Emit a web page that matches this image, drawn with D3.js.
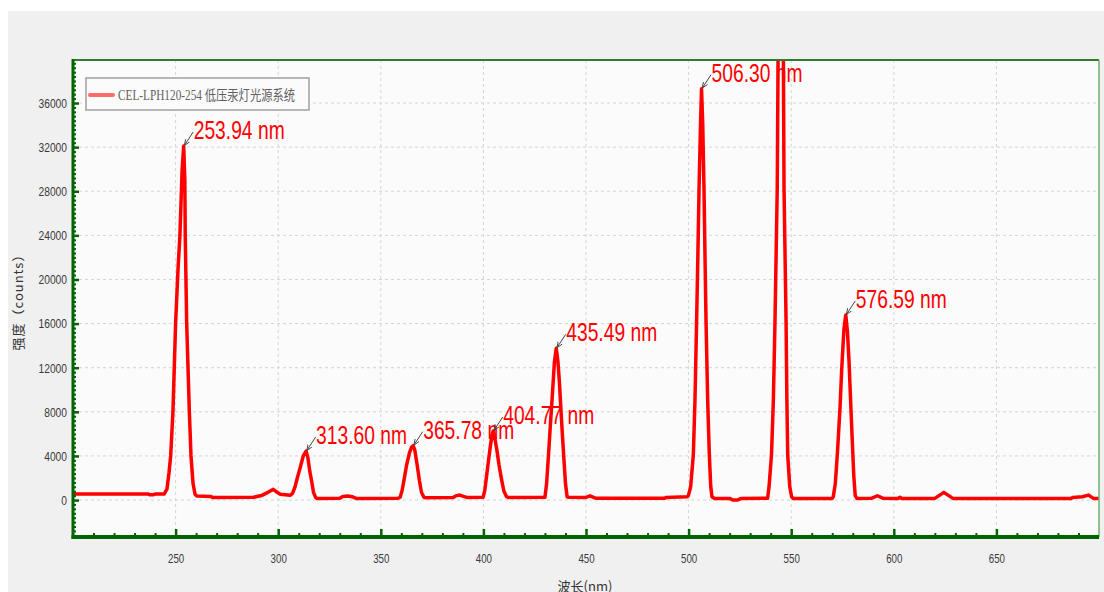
<!DOCTYPE html>
<html>
<head>
<meta charset="utf-8">
<script src="https://cdn.jsdelivr.net/npm/d3@7/dist/d3.min.js"></script>
<style>
  body { margin: 0; background: #ffffff; }
  svg { display: block; }
</style>
</head>
<body>
<div id="chart"></div>
<script>
//------------------------DATA------------------------//
// spectrum: [wavelength nm, counts]
var spectrum = [
  [200, 560], [236.5, 560], [237.5, 470], [239, 480], [240, 540], [244.5, 560],
  [245.8, 1000], [246.8, 2500], [247.6, 4000], [248.7, 8000], [250.0, 16000], [251.2, 21000],
  [252.1, 24000], [253.2, 30000], [253.94, 32100], [254.5, 29000], [254.7, 24000], [255.4, 16000],
  [256.7, 8000], [257.5, 4000], [258.5, 1500], [259.5, 500], [260.5, 360],
  [267, 330], [268, 240], [288, 260], [292, 420], [295, 700], [297.6, 970], [299.5, 700],
  [301, 520], [305.8, 430],
  [307.0, 600], [308.2, 1200], [309.3, 2000], [310.8, 3000], [312.2, 4000], [313.6, 4440],
  [314.5, 3800], [315.4, 2600], [316.3, 1700], [317.2, 700], [318.2, 250],
  [319, 140], [330, 160], [331.5, 330], [334, 360], [336, 300], [338, 150], [358.4, 160],
  [359.4, 250], [360.3, 800], [361.3, 1800], [362.6, 3200], [364, 4300], [365.0, 4800],
  [365.78, 4930], [366.6, 4500], [367.7, 3200], [368.8, 1800], [369.8, 700], [371.0, 250],
  [372, 200], [385.3, 240], [386.5, 380], [388.6, 450], [390.2, 330], [391.9, 240], [399.8, 250],
  [400.0, 350], [400.7, 900], [401.3, 1800], [402.3, 3300], [403.4, 4900], [404.2, 5900],
  [404.77, 6260], [405.4, 5800], [406.5, 4600], [407.6, 3200], [408.9, 1800], [410, 800], [411.3, 300],
  [412, 240], [430, 260],
  [430.8, 1500], [431.8, 4300], [432.7, 7000], [433.6, 9500], [434.6, 12500], [435.49, 13760],
  [436.3, 12600], [437.0, 10800], [437.7, 8500], [438.4, 6200], [439.2, 3800], [440.0, 1500], [440.8, 300],
  [441.5, 250], [450, 240], [452, 380], [454, 220], [455, 160], [488.5, 160], [489, 240], [499.3, 300],
  [499.9, 400], [501.0, 1200], [502.3, 4100], [503.1, 9000], [503.9, 16200], [504.5, 22000],
  [505.1, 28300], [505.8, 34000], [506.3, 37300], [506.9, 34000], [507.5, 28300], [508.0, 22000],
  [508.5, 16200], [509.3, 9000], [510.1, 4100], [510.8, 1200], [511.4, 300],
  [512.5, 150], [520, 150], [521.5, 0], [524, 0], [525.5, 150], [538.5, 170],
  [539.2, 1200], [540.4, 4100], [541.3, 9000], [542.1, 16200], [543.2, 28300], [543.6, 40000],
  [544.8, 65000], [546.2, 40000], [546.5, 28300], [547.5, 16200], [547.9, 9000], [548.3, 4100],
  [549.3, 1200], [550.2, 300],
  [551, 150], [570, 150],
  [570.5, 300], [571.5, 1500], [572.5, 4200], [573.8, 8400], [574.6, 11800], [575.7, 15500],
  [576.59, 16780], [577.4, 15300], [578.2, 12500], [579.0, 8800], [579.8, 5200], [580.5, 2200],
  [581.2, 400],
  [582, 150], [589, 160], [592, 390], [594.6, 170], [602, 150], [603, 260], [604, 150],
  [620, 150], [624.4, 700], [628.8, 150], [686.5, 150], [687, 240], [692, 300], [694.8, 450],
  [697.3, 150], [700, 150]
];

var peakLabels = [253.94, 313.60, 365.78, 404.77, 435.49, 506.30, 576.59];
var xTicks = [250, 300, 350, 400, 450, 500, 550, 600, 650];
var yTicks = [0, 4000, 8000, 12000, 16000, 20000, 24000, 28000, 32000, 36000];
var seriesName = "CEL-LPH120-254 低压汞灯光源系统";
var xTitle = "波长(nm)";
var yTitle = "强度（counts）";

//-----------------------SVG--------------------------//
var W = 1104, H = 592;
var plot = {left: 73, right: 1099, top: 60, bottom: 537};

var svg = d3.select("#chart").append("svg")
    .attr("width", W)
    .attr("height", H);

// grey window
svg.append("rect")
    .attr("x", 8).attr("y", 11)
    .attr("width", W - 8).attr("height", H - 11)
    .style("fill", "#f0f0f0");

svg.append("rect")
    .attr("x", plot.left).attr("y", plot.top)
    .attr("width", plot.right - plot.left).attr("height", plot.bottom - plot.top)
    .style("fill", "#fbfbfb");

//----------------------SCALES------------------------//
var xScale = d3.scaleLinear().domain([200, 700]).range([plot.left, plot.right]);
var yScale = d3.scaleLinear().domain([-3350, 39900]).range([plot.bottom, plot.top]);

//-----------------------GRID-------------------------//
svg.append("g").selectAll("line")
    .data(yTicks).enter().append("line")
    .attr("x1", plot.left).attr("x2", plot.right)
    .attr("y1", function(d) { return yScale(d); })
    .attr("y2", function(d) { return yScale(d); })
    .style("stroke", "#d4d4d4")
    .style("stroke-dasharray", "3,3");

svg.append("g").selectAll("line")
    .data(xTicks).enter().append("line")
    .attr("x1", function(d) { return xScale(d); })
    .attr("x2", function(d) { return xScale(d); })
    .attr("y1", plot.top).attr("y2", plot.bottom)
    .style("stroke", "#d4d4d4")
    .style("stroke-dasharray", "3,3");

//--------------------ANNOTATIONS---------------------//
var defs = svg.append("defs");
defs.append("marker")
    .attr("id", "arrow")
    .attr("viewBox", "0 0 10 10")
    .attr("refX", 9).attr("refY", 5)
    .attr("markerWidth", 6).attr("markerHeight", 6)
    .attr("orient", "auto")
    .append("path")
    .attr("d", "M0,1 L10,5 L0,9")
    .style("fill", "none")
    .style("stroke", "#444")
    .style("stroke-width", 1.5);

defs.append("clipPath").attr("id", "plotclip")
    .append("rect")
    .attr("x", plot.left).attr("y", plot.top)
    .attr("width", plot.right - plot.left).attr("height", plot.bottom - plot.top);

var peaks = peakLabels.map(function(w) {
    var p = spectrum.reduce(function(a, b) {
        return Math.abs(b[0] - w) < Math.abs(a[0] - w) ? b : a;
    });
    return {label: w.toFixed(2) + " nm", x: xScale(p[0]), y: yScale(p[1])};
});

// labels sit under the line (the line covers them in the original)
svg.append("g").selectAll("text")
    .data(peaks).enter().append("text")
    .attr("x", function(d) { return d.x + 10; })
    .attr("y", function(d) { return d.y - 7; })
    .attr("textLength", 91)
    .attr("lengthAdjust", "spacingAndGlyphs")
    .style("font-family", "'Liberation Sans', Arial, sans-serif")
    .style("font-size", "26px")
    .style("fill", "#ff0000")
    .text(function(d) { return d.label; });

//-----------------------LINE-------------------------//
var line = d3.line()
    .x(function(d) { return xScale(d[0]); })
    .y(function(d) { return yScale(d[1]); });

svg.append("path")
    .datum(spectrum)
    .attr("clip-path", "url(#plotclip)")
    .attr("d", line)
    .style("fill", "none")
    .style("stroke", "#ff0000")
    .style("stroke-width", 3.5)
    .style("stroke-linejoin", "round");

svg.append("g").selectAll("line")
    .data(peaks).enter().append("line")
    .attr("x1", function(d) { return d.x + 9.5; })
    .attr("y1", function(d) { return d.y - 14; })
    .attr("x2", function(d) { return d.x + 1; })
    .attr("y2", function(d) { return d.y - 1; })
    .style("stroke", "#444")
    .style("stroke-width", 1)
    .attr("marker-end", "url(#arrow)");

//-----------------------AXES-------------------------//
var tickFont = "'Liberation Sans', Arial, sans-serif";
var green = "#006400";

// minor ticks
var yMinor = d3.range(-3200, 39901, 400).filter(function(v) { return v % 4000 !== 0; });
var xMinor = d3.range(210, 700, 10).filter(function(v) { return v % 50 !== 0; });

svg.append("g")
    .attr("transform", "translate(" + plot.left + ",0)")
    .call(d3.axisLeft(yScale).tickValues(yMinor).tickSize(-3).tickFormat(""))
    .call(function(g) { g.select(".domain").remove(); })
    .selectAll("line").style("stroke", green).style("stroke-width", 2);

svg.append("g")
    .attr("transform", "translate(0," + plot.bottom + ")")
    .call(d3.axisBottom(xScale).tickValues(xMinor).tickSize(-4).tickFormat(""))
    .call(function(g) { g.select(".domain").remove(); })
    .selectAll("line").style("stroke", green).style("stroke-width", 2);

var yAxis = svg.append("g")
    .attr("transform", "translate(" + plot.left + ",0)")
    .call(d3.axisLeft(yScale).tickValues(yTicks).tickSize(-6).tickPadding(6).tickFormat(d3.format("d")));
yAxis.select(".domain").remove();
yAxis.selectAll("line").style("stroke", green).style("stroke-width", 2.5);
yAxis.selectAll("text")
    .attr("textLength", function(d) { return String(d).length * 5.7; })
    .attr("lengthAdjust", "spacingAndGlyphs")
    .style("font-family", tickFont).style("font-size", "13.5px").style("fill", "#3a3a3a");

var xAxis = svg.append("g")
    .attr("transform", "translate(0," + plot.bottom + ")")
    .call(d3.axisBottom(xScale).tickValues(xTicks).tickSize(-8).tickPadding(16));
xAxis.select(".domain").remove();
xAxis.selectAll("line").style("stroke", green).style("stroke-width", 2.5);
xAxis.selectAll("text")
    .attr("textLength", function(d) { return String(d).length * 5.4; })
    .attr("lengthAdjust", "spacingAndGlyphs")
    .style("font-family", tickFont).style("font-size", "13.5px").style("fill", "#3a3a3a");

// frame
svg.append("line")
    .attr("x1", plot.left).attr("x2", plot.right)
    .attr("y1", plot.top).attr("y2", plot.top)
    .style("stroke", "#2e7d2e").style("stroke-width", 2);
svg.append("line")
    .attr("x1", plot.right).attr("x2", plot.right)
    .attr("y1", plot.top).attr("y2", plot.bottom)
    .style("stroke", "#6fb06f").style("stroke-width", 1.5);
svg.append("line")
    .attr("x1", plot.left).attr("x2", plot.left)
    .attr("y1", plot.top - 1).attr("y2", plot.bottom + 2)
    .style("stroke", green).style("stroke-width", 3);
svg.append("line")
    .attr("x1", plot.left - 1.5).attr("x2", plot.right)
    .attr("y1", plot.bottom).attr("y2", plot.bottom)
    .style("stroke", green).style("stroke-width", 4);

// axis titles
svg.append("text")
    .attr("transform", "translate(23,299) rotate(-90)")
    .attr("text-anchor", "middle")
    .style("font-family", "'Noto Sans CJK SC', sans-serif")
    .style("font-size", "13px")
    .style("letter-spacing", "1px")
    .style("fill", "#333")
    .text(yTitle);

svg.append("text")
    .attr("x", 585).attr("y", 591)
    .attr("text-anchor", "middle")
    .style("font-family", "'Noto Sans CJK SC', sans-serif")
    .style("font-size", "13px")
    .style("fill", "#333")
    .text(xTitle);

//----------------------LEGEND------------------------//
var legend = svg.append("g");
legend.append("rect")
    .attr("x", 86).attr("y", 78)
    .attr("width", 223).attr("height", 32)
    .style("fill", "#fbfbfb")
    .style("stroke", "#a0a0a0")
    .style("stroke-width", 1.5);
legend.append("line")
    .attr("x1", 90).attr("x2", 113)
    .attr("y1", 95).attr("y2", 95)
    .style("stroke", "#ff6b6b")
    .style("stroke-width", 4)
    .style("stroke-linecap", "round");
legend.append("text")
    .attr("x", 118).attr("y", 100)
    .attr("textLength", 177)
    .attr("lengthAdjust", "spacingAndGlyphs")
    .style("font-family", "'Liberation Serif', 'Noto Sans CJK SC', serif")
    .style("font-size", "14px")
    .style("fill", "#606060")
    .text(seriesName);
</script>
</body>
</html>
